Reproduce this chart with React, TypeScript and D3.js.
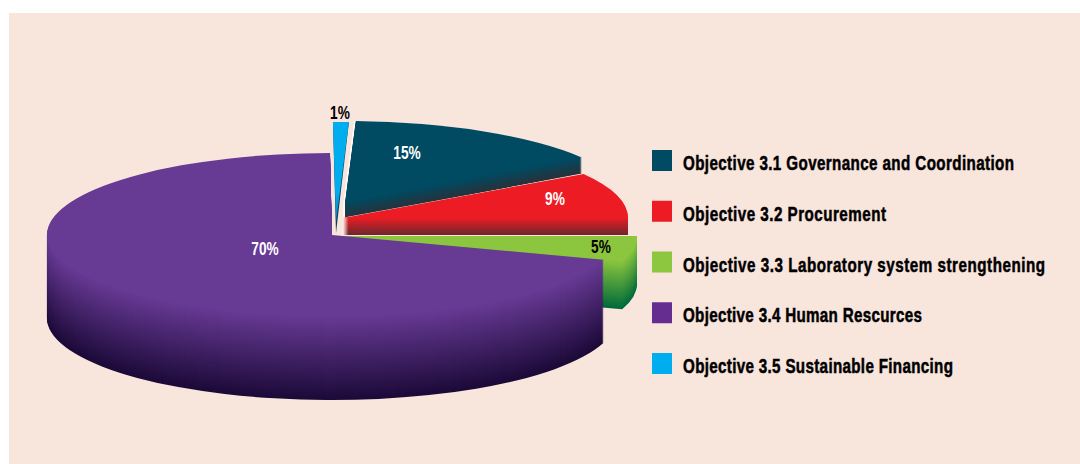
import React from "react";
import * as d3 from "d3";

const categories = [
  "Objective 3.1 Governance and Coordination",
  "Objective 3.2 Procurement",
  "Objective 3.3 Laboratory system strengthening",
  "Objective 3.4 Human Rescurces",
  "Objective 3.5 Sustainable Financing",
];
const shares = [15, 9, 5, 70, 1];
const legendColors = ["#004b63", "#ed1c24", "#8dc63f", "#662d91", "#00aeef"];

// Styling of each exploded wedge (same order as the data)
const faceColors = ["#004a62", "#ed1c24", "#8cc63f", "#673a94", "#00aeef"];
const sideColors = ["#28323b", "#70272c", "#006b3a", "#1c0a38", "#0b3f5c"];
const centreX = [345, 343, 333, 332, 336];
const centreY = [203, 218, 236, 235, 233];
const radiusX = [285, 285, 304, 285, 254];
const radiusY = [82, 82, 82, 82, 111];
const depths = [16, 17, 48, 83, 0];
const rotation = [-1.4, 0, 0, -0.4, -0.7];
const haloShift = [1.6, 1.6, 0, 0, 0];
const apexLift = [0, 0, 0, 0, 11];
const labelX = [407, 555, 601, 265, 340];
const labelY = [159, 205, 253, 255, 119];
const labelColors = ["#fff", "#fff", "#000", "#fff", "#000"];
const labelScale = 0.76;
const legendScale = 0.76;
const legendWidths = [331, 203, 362, 239, 270];
const paintOrder = [0, 1, 2, 3, 4];

const FONT = "'Liberation Sans',sans-serif";
const BG = "#f8e5dc";

const pie = d3
  .pie<number>()
  .sort(null)
  .value((d) => d)
  .startAngle((3.6 * Math.PI) / 180)
  .endAngle((363.6 * Math.PI) / 180);
const arc = d3.arc<any>().innerRadius(0).outerRadius(1);
const legendY = d3.scalePoint<string>().domain(categories).range([150, 353]);

export default function App() {
  const arcs = pie(shares);
  return (
    <svg
      width={1080}
      height={464}
      style={{ position: "absolute", left: 0, top: 0, background: "#fff" }}
    >
      <defs>
        <linearGradient id="blueFade" x1="0" x2="0" y1="0" y2="1">
          <stop offset="0.7" stopColor={faceColors[4]} />
          <stop offset="1" stopColor="#0a7fb5" />
        </linearGradient>
      </defs>
      <rect x={9} y={13} width={1071} height={451} fill={BG} />
      {paintOrder.map((i) => {
        const a = arcs[i];
        const rot = (rotation[i] * Math.PI) / 180;
        const d = arc({ startAngle: a.startAngle + rot, endAngle: a.endAngle + rot }) as string;
        const place = (t: number, dx = 0, lift = 0) =>
          `translate(${centreX[i] + dx},${centreY[i] + t - lift}) scale(${radiusX[i]},${radiusY[i] - lift})`;
        const mix = d3.interpolateRgb(faceColors[i], sideColors[i]);
        return (
          <g key={i}>
            {haloShift[i] > 0 &&
              d3
                .range(depths[i], -1, -1)
                .map((t) => (
                  <path key={`h${t}`} d={d} transform={place(t, -haloShift[i])} fill="#fffaf6" />
                ))}
            {d3.range(depths[i], 0, -1).map((t) => (
              <path key={t} d={d} transform={place(t)} fill={mix(t / depths[i])} />
            ))}
            {apexLift[i] > 0 ? (
              <>
                <path d={d} transform={place(0)} fill={sideColors[i]} />
                <path d={d} transform={place(0, 0, apexLift[i])} fill="url(#blueFade)" />
              </>
            ) : (
              <path d={d} transform={place(0)} fill={faceColors[i]} />
            )}
          </g>
        );
      })}
      {shares.map((s, i) => (
        <text
          key={i}
          transform={`translate(${labelX[i]},${labelY[i]}) scale(${labelScale},1)`}
          textAnchor="middle"
          fontFamily={FONT}
          fontWeight={700}
          fontSize={18}
          fill={labelColors[i]}
        >
          {s}%
        </text>
      ))}
      {categories.map((c, i) => {
        const y = legendY(c) as number;
        return (
          <g key={c}>
            <rect x={652} y={y} width={20} height={21} fill={legendColors[i]} />
            <text
              transform={`translate(683,${y + 20}) scale(${legendScale},1)`}
              fontFamily={FONT}
              fontWeight={700}
              fontSize={20}
              fill="#000"
              stroke="#000"
              strokeWidth={0.5}
              textLength={legendWidths[i] / legendScale}
              lengthAdjust="spacing"
            >
              {c}
            </text>
          </g>
        );
      })}
    </svg>
  );
}
